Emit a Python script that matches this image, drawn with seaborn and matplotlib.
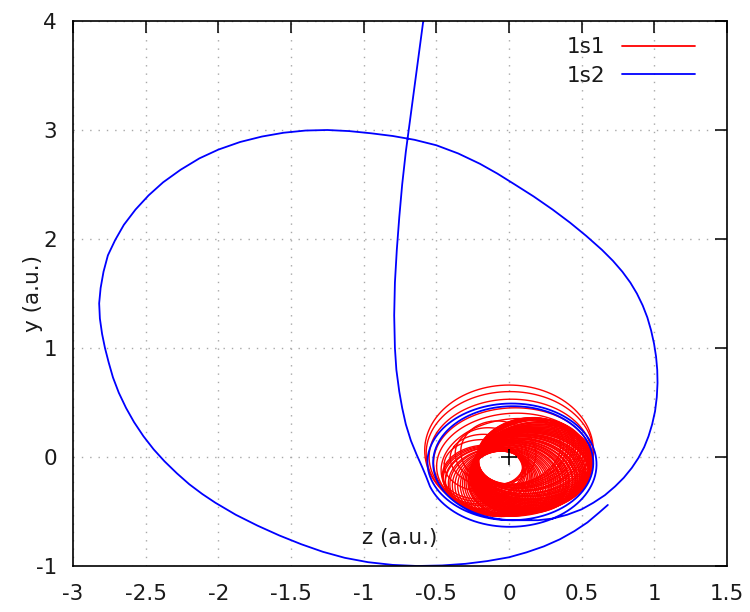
import numpy as np
import pandas as pd
import matplotlib
matplotlib.use("Agg")
import matplotlib.pyplot as plt
from matplotlib.lines import Line2D
import seaborn as sns

# ---------------- data ----------------
x_ticks = [-3, -2.5, -2, -1.5, -1, -0.5, 0, 0.5, 1, 1.5]
x_tick_labels = ["-3", "-2.5", "-2", "-1.5", "-1", "-0.5", "0", "0.5", "1", "1.5"]
y_ticks = [-1, 0, 1, 2, 3, 4]
y_tick_labels = ["-1", "0", "1", "2", "3", "4"]
series_labels = ["1s1", "1s2"]
series_colors = ["#ff0000", "#0000ff"]

# 1s2 (blue): incoming branch from the top
blue_in_z = [-0.59, -0.62, -0.65, -0.68, -0.71, -0.735, -0.755, -0.772, -0.785, -0.79,
             -0.785, -0.775, -0.755, -0.735, -0.71, -0.675, -0.635, -0.595, -0.57]
blue_in_y = [4.00, 3.70, 3.40, 3.10, 2.80, 2.50, 2.20, 1.90, 1.60, 1.30,
             1.00, 0.80, 0.60, 0.45, 0.30, 0.15, 0.02, -0.10, -0.18]

# 1s2 (blue): loops around the nucleus (orbit angle in deg, centre, half-axes)
blue_loop_theta = [200, 560, 920, 990]
blue_loop_cz = [0.02, 0.01, 0.03, 0.04]
blue_loop_cy = [-0.07, -0.05, -0.06, -0.06]
blue_loop_rz = [0.60, 0.57, 0.55, 0.55]
blue_loop_ry = [0.585, 0.53, 0.52, 0.52]

# 1s2 (blue): outgoing branch, big excursion
blue_out_z = [0.20, 0.30, 0.40, 0.50, 0.58, 0.66, 0.73, 0.79, 0.845, 0.89, 0.93, 0.96, 0.985,
              1.005, 1.017, 1.022, 1.02, 1.012, 0.998, 0.978, 0.952, 0.92, 0.88, 0.835, 0.78,
              0.715, 0.64, 0.53, 0.42, 0.30, 0.17, 0.04, -0.08, -0.20, -0.35, -0.50, -0.65,
              -0.80, -0.95, -1.10, -1.25, -1.40, -1.55, -1.70, -1.85, -2.00, -2.13, -2.26,
              -2.38, -2.48, -2.57, -2.65, -2.71, -2.76, -2.79, -2.81, -2.82, -2.815, -2.80,
              -2.78, -2.755, -2.725, -2.685, -2.635, -2.58, -2.515, -2.445, -2.37, -2.285, -2.20,
              -2.11, -2.02, -1.88, -1.73, -1.58, -1.43, -1.28, -1.13, -0.97, -0.80, -0.63,
              -0.46, -0.30, -0.15, 0.00, 0.12, 0.24, 0.35, 0.45, 0.54, 0.62, 0.68]
blue_out_y = [-0.58, -0.565, -0.53, -0.48, -0.42, -0.35, -0.27, -0.19, -0.10, -0.01, 0.09, 0.19, 0.30,
              0.42, 0.55, 0.68, 0.80, 0.92, 1.04, 1.16, 1.28, 1.39, 1.50, 1.60, 1.70,
              1.80, 1.90, 2.03, 2.15, 2.27, 2.39, 2.50, 2.60, 2.69, 2.785, 2.86, 2.91,
              2.945, 2.97, 2.99, 3.00, 2.995, 2.975, 2.94, 2.89, 2.82, 2.74, 2.635,
              2.52, 2.40, 2.27, 2.13, 1.99, 1.85, 1.70, 1.55, 1.41, 1.27, 1.13,
              1.00, 0.87, 0.73, 0.59, 0.45, 0.32, 0.19, 0.07, -0.04, -0.15, -0.25,
              -0.34, -0.42, -0.53, -0.63, -0.72, -0.80, -0.87, -0.925, -0.965, -0.99, -1.00,
              -0.995, -0.98, -0.955, -0.92, -0.875, -0.82, -0.755, -0.68, -0.60, -0.51, -0.44]

# 1s1 (red): outer, nearly circular loops (centre, half-axes, tilt in deg)
red_out_cz = [0.00, 0.005, 0.01, 0.025, 0.03, 0.045]
red_out_cy = [0.06, 0.035, 0.005, -0.035, -0.065, -0.095]
red_out_rz = [0.58, 0.575, 0.56, 0.545, 0.53, 0.515]
red_out_ry = [0.60, 0.565, 0.525, 0.485, 0.465, 0.445]
red_out_tilt = [0, 3, 5, 8, 10, 12]

# 1s1 (red): precessing Kepler-like loops around the empty core
# (focus position, orientation of apoapsis in deg, semi-major axis, eccentricity)
red_focus_z = -0.05
red_focus_y = -0.09
red_phi = [50, 45, 40, 36, 32, 28, 24, 20, 17, 14, 11, 8, 5, 2, -1, -4, -7, -10, -13, -16,
           -19, -22, -26, -30, -34, -38, -42, -47, -52, -58, -64, -72, -80, -90, -100, -112,
           -124, -136, -148, -160, 175, 150, 125, 100,
           48, 43, 38, 34, 30, 26, 22, 18.5, 15.5, 12.5, 9.5, 6.5, 3.5, 0.5, -2.5, -5.5,
           -8.5, -11.5, -14.5, -17.5, -20.5, -24, -28, -32, -36, -40, -44.5, -49.5, -55,
           -61, -68, -76, -85, -95, -106, -118, -130, -142, -154]
red_a = [0.32, 0.34, 0.35, 0.36, 0.37, 0.38, 0.38, 0.39, 0.39, 0.40, 0.40, 0.40, 0.40, 0.40,
         0.40, 0.40, 0.40, 0.40, 0.39, 0.39, 0.38, 0.38, 0.37, 0.37, 0.36, 0.35, 0.34, 0.34,
         0.33, 0.32, 0.31, 0.31, 0.30, 0.30, 0.30, 0.30, 0.30, 0.30, 0.29, 0.28, 0.27, 0.26,
         0.27, 0.29,
         0.33, 0.345, 0.355, 0.365, 0.375, 0.375, 0.385, 0.385, 0.395, 0.395, 0.395, 0.395,
         0.395, 0.395, 0.395, 0.395, 0.395, 0.39, 0.385, 0.385, 0.375, 0.37, 0.365, 0.36,
         0.35, 0.345, 0.335, 0.33, 0.325, 0.315, 0.31, 0.305, 0.30, 0.30, 0.30, 0.30,
         0.295, 0.29, 0.285]
red_e = [0.57, 0.59, 0.60, 0.58, 0.60, 0.59, 0.60, 0.58, 0.57, 0.58, 0.56, 0.57, 0.56, 0.55,
         0.54, 0.53, 0.52, 0.51, 0.50, 0.49, 0.48, 0.47, 0.47, 0.46, 0.46, 0.45, 0.46, 0.45,
         0.46, 0.47, 0.48, 0.50, 0.51, 0.52, 0.52, 0.51, 0.50, 0.49, 0.50, 0.50, 0.47, 0.45,
         0.44, 0.46,
         0.58, 0.60, 0.59, 0.61, 0.58, 0.60, 0.57, 0.59, 0.57, 0.58, 0.56, 0.56, 0.55, 0.54,
         0.53, 0.52, 0.51, 0.50, 0.49, 0.48, 0.47, 0.47, 0.46, 0.46, 0.45, 0.45, 0.44, 0.45,
         0.46, 0.47, 0.49, 0.50, 0.51, 0.52, 0.52, 0.51, 0.50, 0.49, 0.50]

nucleus_z = [0.0]
nucleus_y = [0.0]

# ---------------- build curves ----------------
def tilted_loop(cz, cy, rz, ry, tilt, th):
    u = rz * np.cos(th)
    v = ry * np.sin(th)
    t = np.deg2rad(tilt)
    return cz + u * np.cos(t) - v * np.sin(t), cy + u * np.sin(t) + v * np.cos(t)

th_full = np.linspace(0, 2 * np.pi, 121)
frames = []
k = 0
for p in zip(red_out_cz, red_out_cy, red_out_rz, red_out_ry, red_out_tilt):
    a, b = tilted_loop(*p, th_full)
    frames.append(pd.DataFrame({"z": a, "y": b, "loop": k}))
    k += 1
for phi, sa, ecc in zip(red_phi, red_a, red_e):
    pr = np.deg2rad(phi)
    c = sa * ecc
    cz = red_focus_z + c * np.cos(pr)
    cy = red_focus_y + c * np.sin(pr)
    sb = sa * np.sqrt(1 - ecc ** 2)
    a, b = tilted_loop(cz, cy, sa, sb, phi, th_full)
    frames.append(pd.DataFrame({"z": a, "y": b, "loop": k}))
    k += 1
red_df = pd.concat(frames, ignore_index=True)

th_deg = np.linspace(blue_loop_theta[0], blue_loop_theta[-1], 500)
bcz = np.interp(th_deg, blue_loop_theta, blue_loop_cz)
bcy = np.interp(th_deg, blue_loop_theta, blue_loop_cy)
brz = np.interp(th_deg, blue_loop_theta, blue_loop_rz)
bry = np.interp(th_deg, blue_loop_theta, blue_loop_ry)
th = np.deg2rad(th_deg)
blue_df = pd.DataFrame({
    "z": np.concatenate([blue_in_z, bcz + brz * np.cos(th), blue_out_z]),
    "y": np.concatenate([blue_in_y, bcy + bry * np.sin(th), blue_out_y]),
})

# ---------------- plot ----------------
sns.set_theme(style="white")
plt.rcParams["font.family"] = ["DejaVu Sans"]
FS = 15.5
TXT = "#1a1a1a"

fig = plt.figure(figsize=(7.5, 6.12), dpi=100)
ax = fig.add_axes([73 / 750, 1 - 566 / 612, 654 / 750, 545 / 612])

sns.lineplot(data=red_df, x="z", y="y", units="loop", sort=False, estimator=None,
             color=series_colors[0], linewidth=1.0, ax=ax, legend=False)
sns.lineplot(data=blue_df, x="z", y="y", sort=False, estimator=None,
             color=series_colors[1], linewidth=1.3, ax=ax, legend=False)
ax.plot(nucleus_z, nucleus_y, linestyle="none", marker="+", color="black",
        markersize=12, markeredgewidth=1.2, zorder=5)

ax.set_xlim(-3, 1.5)
ax.set_ylim(-1, 4)
ax.set_xticks(x_ticks, x_tick_labels)
ax.set_yticks(y_ticks, y_tick_labels)
ax.tick_params(direction="in", length=8.5, width=1.1, color="black",
               top=True, right=True, labelsize=FS, labelcolor=TXT)
ax.tick_params(axis="x", pad=13)
ax.tick_params(axis="y", pad=11.5)

ax.set_axisbelow(True)
ax.grid(True, color="#a8a8a8", linestyle=(0, (1, 5)), linewidth=1.0)
for s in ax.spines.values():
    s.set_color("black")
    s.set_linewidth(1.2)

ax.set_xlabel("z (a.u.)", fontsize=FS, color=TXT)
ax.set_ylabel("y (a.u.)", fontsize=FS, color=TXT)
ax.xaxis.set_label_coords(0.5, 0.070)
ax.yaxis.set_label_coords(-0.046, 0.5)

handles = [Line2D([], [], color=c, linewidth=1.3, label=l)
           for c, l in zip(series_colors, series_labels)]
ax.legend(handles=handles, loc="upper right", bbox_to_anchor=(0.951, 0.970),
          frameon=False, markerfirst=False, handlelength=3.4, handletextpad=0.77,
          labelspacing=0.38, borderpad=0, borderaxespad=0, fontsize=FS,
          labelcolor=TXT)

fig.savefig("out.png", dpi=100)
